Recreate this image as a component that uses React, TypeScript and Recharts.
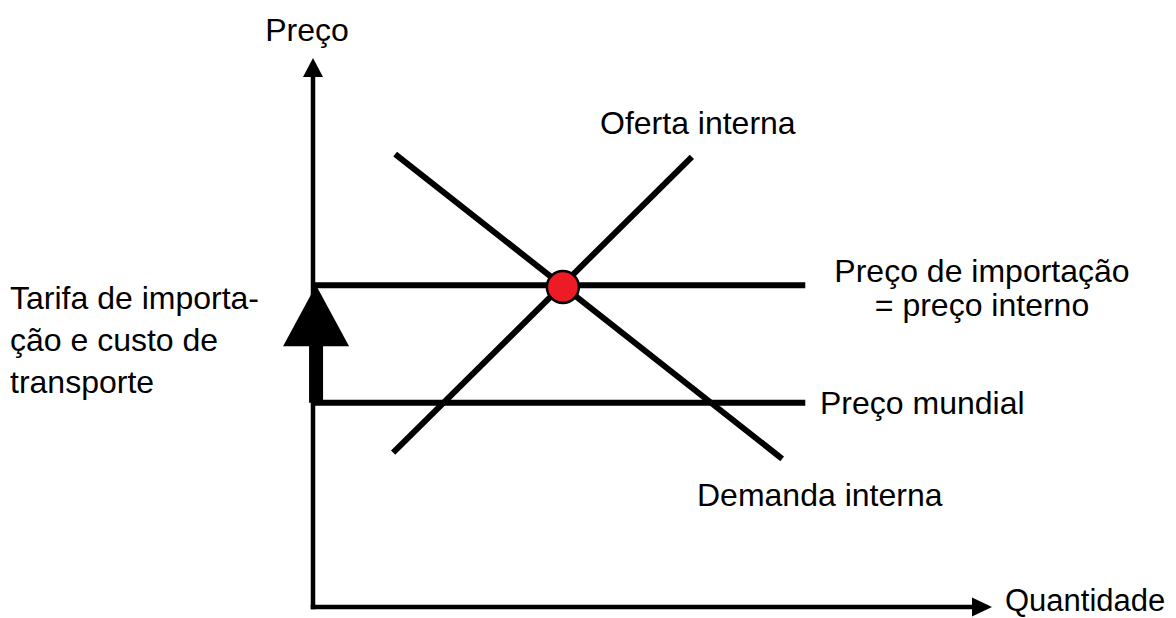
import React from "react";
import {
  ComposedChart,
  Line,
  XAxis,
  YAxis,
  ReferenceLine,
  ReferenceDot,
} from "recharts";

// quantity (q) and price (p) on a 0–100 scale
const supplyCurve = [
  { q: 11.8, p: 28.1 },
  { q: 55.8, p: 82.0 },
];
const demandCurve = [
  { q: 12.1, p: 82.5 },
  { q: 69.1, p: 27.0 },
];
const importPriceLine = [
  { q: 0, p: 58.6 },
  { q: 72.5, p: 58.6 },
];
const worldPriceLine = [
  { q: 0, p: 37.2 },
  { q: 72.5, p: 37.2 },
];
const equilibrium = { q: 36.8, p: 58.3 };
const tariffArrow = [
  { x: 0.45, y: 37.2 },
  { x: 0.45, y: 58.6 },
];
const priceAxis = [
  { x: 0, y: 0 },
  { x: 0, y: 100 },
];
const quantityAxis = [
  { x: 0, y: 0 },
  { x: 100, y: 0 },
];

const font = "'Liberation Sans', Arial, sans-serif";

function arrow(headLen: number, headHalf: number, shaft: number, tail = 0) {
  return (props: any) => {
    const { x1, y1, x2, y2 } = props;
    const len = Math.hypot(x2 - x1, y2 - y1);
    const ux = (x2 - x1) / len;
    const uy = (y2 - y1) / len;
    const bx = x2 - ux * headLen;
    const by = y2 - uy * headLen;
    const nx = -uy;
    const ny = ux;
    return (
      <g>
        <line
          x1={x1 - ux * tail}
          y1={y1 - uy * tail}
          x2={bx + ux}
          y2={by + uy}
          stroke="#000"
          strokeWidth={shaft}
        />
        <polygon
          points={`${x2},${y2} ${bx + nx * headHalf},${by + ny * headHalf} ${bx - nx * headHalf},${by - ny * headHalf}`}
          fill="#000"
        />
      </g>
    );
  };
}

export default function App() {
  const textStyle = { fontFamily: font, fontSize: 32, fill: "#000" };
  return (
    <div style={{ position: "absolute", left: 0, top: 0, background: "#fff" }}>
      <ComposedChart
        width={1176}
        height={618}
        margin={{ top: 58, right: 184, bottom: 11, left: 313 }}
      >
        <XAxis type="number" dataKey="q" domain={[0, 100]} hide />
        <YAxis type="number" dataKey="p" domain={[0, 100]} hide />
        <Line data={importPriceLine} dataKey="p" stroke="#000" strokeWidth={6} dot={false} isAnimationActive={false} />
        <Line data={worldPriceLine} dataKey="p" stroke="#000" strokeWidth={6} dot={false} isAnimationActive={false} />
        <Line data={supplyCurve} dataKey="p" stroke="#000" strokeWidth={6} dot={false} isAnimationActive={false} />
        <Line data={demandCurve} dataKey="p" stroke="#000" strokeWidth={6} dot={false} isAnimationActive={false} />
        <ReferenceLine segment={priceAxis} ifOverflow="visible" shape={arrow(19, 10, 4.5, 2.25)} />
        <ReferenceLine segment={quantityAxis} ifOverflow="visible" shape={arrow(20, 9.5, 4.5, 2.25)} />
        <ReferenceLine segment={tariffArrow} ifOverflow="visible" shape={arrow(61, 33, 14)} />
        <ReferenceDot
          x={equilibrium.q}
          y={equilibrium.p}
          r={16}
          fill="#ED1C24"
          stroke="#000"
          strokeWidth={2.5}
          ifOverflow="visible"
        />
        <text x={307} y={41} textAnchor="middle" style={textStyle}>Preço</text>
        <text x={600} y={134} style={textStyle}>Oferta interna</text>
        <text x={982} y={282} textAnchor="middle" style={textStyle}>Preço de importação</text>
        <text x={982} y={316} textAnchor="middle" style={textStyle}>= preço interno</text>
        <text x={820} y={414} style={textStyle}>Preço mundial</text>
        <text x={697} y={506} style={textStyle}>Demanda interna</text>
        <text x={1005} y={611} style={{ ...textStyle, fontSize: 31 }}>Quantidade</text>
        <text x={10} y={309} style={textStyle}>Tarifa de importa-</text>
        <text x={10} y={351} style={textStyle}>ção e custo de</text>
        <text x={10} y={393} style={textStyle}>transporte</text>
      </ComposedChart>
    </div>
  );
}
